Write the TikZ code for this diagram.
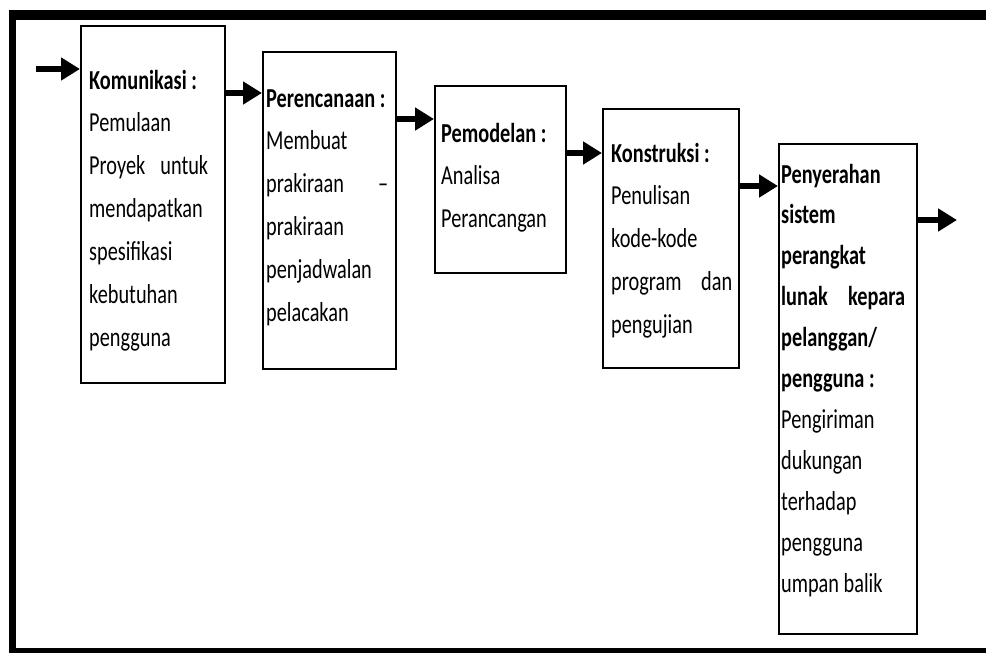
\documentclass[tikz,border=0pt]{standalone}
\usepackage{fontspec}
\usepackage{graphicx}
\setmainfont{Carlito}
\usetikzlibrary{arrows.meta}
\tikzset{
  box/.style={draw, line width=1.6pt, anchor=north west, inner sep=0pt},
  phase/.style={anchor=base west, inner sep=0pt, font=\fontsize{20.3}{#1}\selectfont},
  phase/.default=31.85,
  flow/.style={line width=6pt, -{Triangle[length=19pt,width=22pt]}},
  frame/.style={line width=#1},
}
\newcommand{\tall}[1]{\scalebox{1}[1.35]{#1}}

\begin{document}
\begin{tikzpicture}[x=1pt,y=1pt]
        \useasboundingbox (0,0) rectangle (986,-653);
        \clip (0,0) rectangle (986,-653);
        \draw[frame=10pt] (9,-15)--(986,-15);
        \draw[frame=7pt] (12.5,-10)--(12.5,-653);
        \draw[frame=10pt] (9,-653)--(986,-653);
        \node[box, minimum width=144pt, minimum height=357pt] (kom) at (80,-25) {};
        \node[box, minimum width=133pt, minimum height=317pt] (per) at (262,-51) {};
        \node[box, minimum width=131pt, minimum height=187pt] (mod) at (434,-85) {};
        \node[box, minimum width=136pt, minimum height=259pt] (kon) at (602,-108) {};
        \node[box, minimum width=138pt, minimum height=490pt] (pen) at (778,-143) {};
        \node[phase] (komtext) at (89,-89) {\tall{\begin{tabular}[t]{@{}p{119pt}@{}}\textbf{Komunikasi :}\\ Pemulaan\\ Proyek\hfill untuk\\ mendapatkan\\ spesifikasi\\ kebutuhan\\ pengguna\end{tabular}}};
        \node[phase] (pertext) at (266,-107) {\tall{\begin{tabular}[t]{@{}p{122pt}@{}}\textbf{Perencanaan :}\\ Membuat\\ prakiraan\hfill --\\ prakiraan\\ penjadwalan\\ pelacakan\end{tabular}}};
        \node[phase] (modtext) at (441,-142) {\tall{\begin{tabular}[t]{@{}p{110pt}@{}}\textbf{Pemodelan :}\\ Analisa\\ Perancangan\end{tabular}}};
        \node[phase] (kontext) at (611,-162) {\tall{\begin{tabular}[t]{@{}p{121pt}@{}}\textbf{Konstruksi :}\\ Penulisan\\ kode-kode\\ program\hfill dan\\ pengujian\end{tabular}}};
        \node[phase=30.3] (pentext) at (781,-183) {\tall{\begin{tabular}[t]{@{}p{124pt}@{}}\textbf{Penyerahan}\\ \textbf{sistem}\\ \textbf{perangkat}\\ \textbf{lunak\hfill kepara}\\ \textbf{pelanggan/}\\ \textbf{pengguna :}\\ Pengiriman\\ dukungan\\ terhadap\\ pengguna\\ umpan balik\end{tabular}}};
        \coordinate (start) at (36,-69);
        \coordinate (finish) at (957,-220);
        \draw[flow] (start)--(kom.west |- start);
        \draw[flow] (kom.east |- 0,-93)--(per.west |- 0,-93);
        \draw[flow] (per.east |- 0,-119)--(mod.west |- 0,-119);
        \draw[flow] (mod.east |- 0,-153)--(kon.west |- 0,-153);
        \draw[flow] (kon.east |- 0,-186)--(pen.west |- 0,-186);
        \draw[flow] (pen.east |- finish)--(finish);
    \end{tikzpicture}
\end{document}
